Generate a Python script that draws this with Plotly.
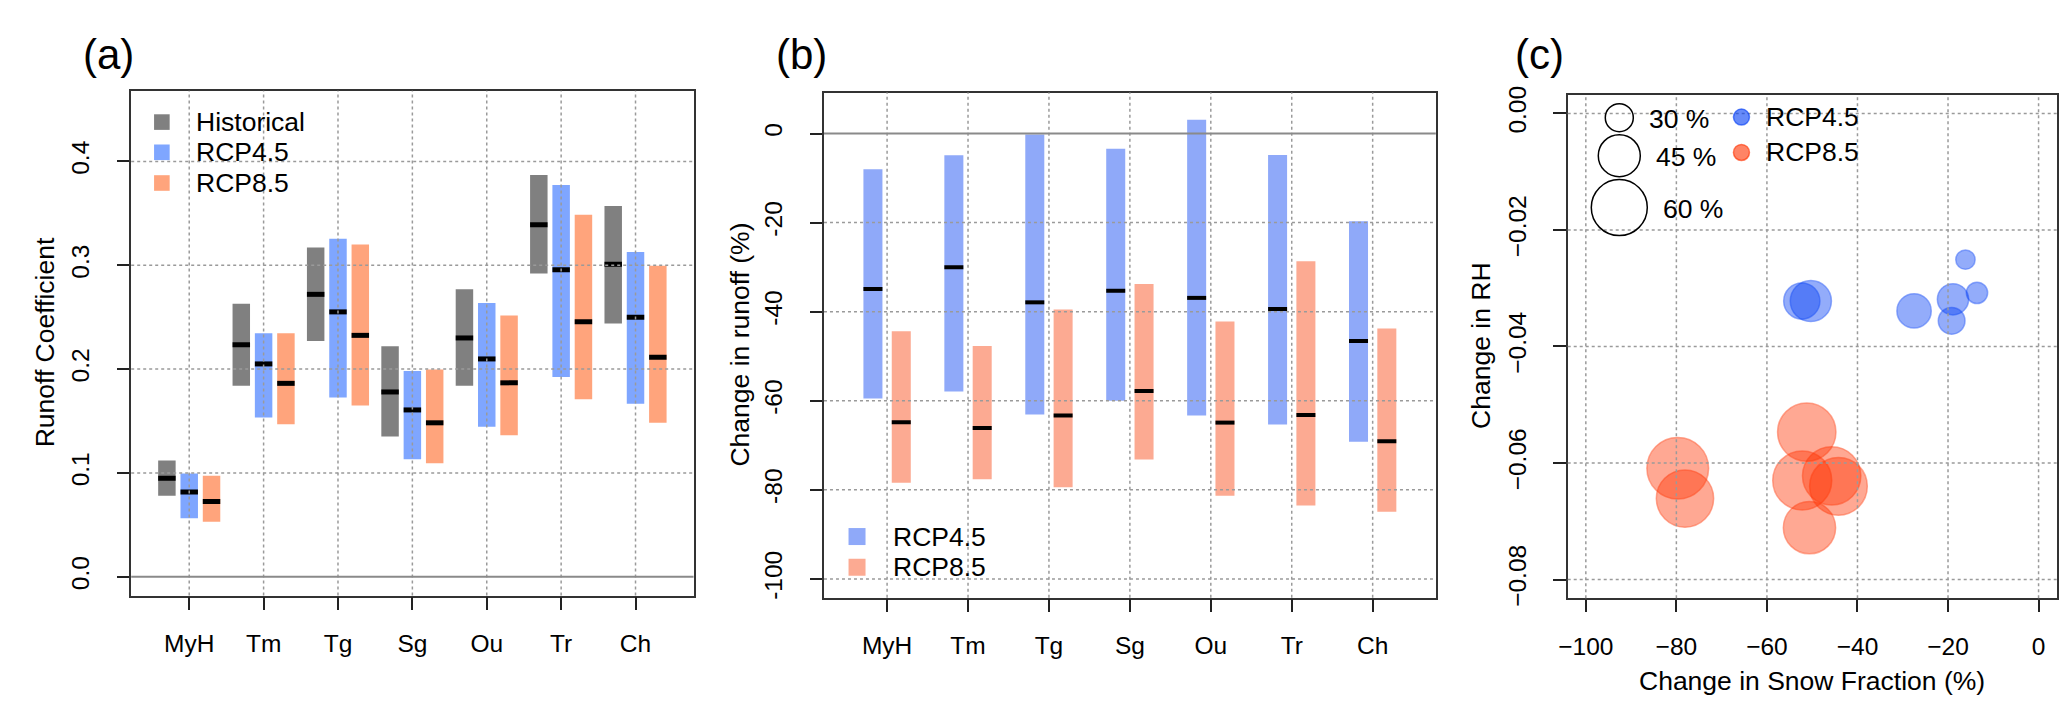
import plotly.graph_objects as go

# ---------------- data ----------------
basins = ["MyH", "Tm", "Tg", "Sg", "Ou", "Tr", "Ch"]

# panel (a) runoff coefficient: top / bottom / median
hist_top = [0.112, 0.263, 0.317, 0.222, 0.277, 0.387, 0.357]
hist_bot = [0.078, 0.184, 0.227, 0.135, 0.184, 0.292, 0.244]
hist_med = [0.095, 0.2235, 0.272, 0.178, 0.230, 0.339, 0.301]

r45_top = [0.0996, 0.2346, 0.3256, 0.1983, 0.2637, 0.3774, 0.3128]
r45_bot = [0.0564, 0.1534, 0.1726, 0.1132, 0.1444, 0.1923, 0.1667]
r45_med = [0.0816, 0.205, 0.2551, 0.1607, 0.2098, 0.2957, 0.250]

r85_top = [0.0974, 0.2346, 0.320, 0.1996, 0.2517, 0.3487, 0.2996]
r85_bot = [0.053, 0.147, 0.165, 0.1094, 0.1363, 0.1709, 0.1483]
r85_med = [0.0726, 0.1863, 0.2325, 0.1483, 0.1868, 0.2457, 0.2115]

# panel (b) change in runoff (%)
d45_top = [-8.0, -4.9, -0.2, -3.4, 3.1, -4.8, -19.7]
d45_bot = [-59.5, -57.9, -63.1, -60.0, -63.3, -65.3, -69.2]
d45_med = [-34.9, -30.0, -37.9, -35.3, -36.9, -39.4, -46.6]

d85_top = [-44.4, -47.7, -39.5, -33.8, -42.2, -28.7, -43.8]
d85_bot = [-78.4, -77.6, -79.4, -73.2, -81.3, -83.5, -84.9]
d85_med = [-64.8, -66.1, -63.3, -57.8, -64.9, -63.2, -69.1]

# panel (c) change in snow fraction vs change in RH, size in %
c45_x = [-16.15, -13.6, -18.9, -19.2, -27.5, -52.3, -50.3]
c45_y = [-0.0251, -0.0308, -0.0319, -0.0356, -0.0339, -0.0322, -0.0322]
c45_s = [20.7, 22.8, 33.5, 28.6, 36.8, 38.8, 44.1]

c85_x = [-79.7, -78.1, -51.2, -52.2, -45.7, -44.2, -50.6]
c85_y = [-0.0609, -0.0661, -0.0547, -0.0630, -0.0622, -0.0640, -0.0711]
c85_s = [66.1, 61.4, 62.5, 63.2, 62.5, 61.8, 56.0]

size_legend = [30, 45, 60]

a_yticks = [0.0, 0.1, 0.2, 0.3, 0.4]
a_yticktext = ["0.0", "0.1", "0.2", "0.3", "0.4"]
b_yticks = [0, -20, -40, -60, -80, -100]
b_yticktext = ["0", "-20", "-40", "-60", "-80", "-100"]
c_xticks = [-100, -80, -60, -40, -20, 0]
c_xticktext = ["\u2212100", "\u221280", "\u221260", "\u221240", "\u221220", "0"]
c_yticks = [0.0, -0.02, -0.04, -0.06, -0.08]
c_yticktext = ["0.00", "\u22120.02", "\u22120.04", "\u22120.06", "\u22120.08"]

# ---------------- style ----------------
W, H = 2067, 713
FONT = "Liberation Sans"
TICK_FS = 24.5
TITLE_FS = 26.5
PANEL_FS = 42

GRAY = "#808080"
A_BLUE = "#7FA6FF"
A_ORANGE = "#FFA47C"
B_BLUE = "#8FA9F9"
B_ORANGE = "#FCAA92"
C_BLUE = "rgba(0,60,245,0.6)"
C_RED = "rgba(255,50,0,0.6)"
GRID = "#9a9a9a"

PX_PER_PCT = 28 / 30.0   # circle diameter (px) per percent

def fx(px):
    return px / W

def fy(py):
    return 1 - py / H

fig = go.Figure()

pos = list(range(1, len(basins) + 1))
BW = 0.235


def add_bars(xaxis, yaxis, offset, tops, bots, meds, color, lw):
    xs = [p + offset for p in pos]
    fig.add_trace(go.Bar(
        x=xs, y=[t - b for t, b in zip(tops, bots)], base=bots, width=BW,
        marker=dict(color=color, line=dict(width=0)),
        xaxis=xaxis, yaxis=yaxis, showlegend=False, hoverinfo="skip"))
    mx, my = [], []
    for x, m in zip(xs, meds):
        mx += [x - BW / 2, x + BW / 2, None]
        my += [m, m, None]
    fig.add_trace(go.Scatter(
        x=mx, y=my, mode="lines", line=dict(color="black", width=lw),
        xaxis=xaxis, yaxis=yaxis, showlegend=False, hoverinfo="skip"))


# panel a
add_bars("x", "y", -0.3, hist_top, hist_bot, hist_med, GRAY, 5)
add_bars("x", "y", 0.0, r45_top, r45_bot, r45_med, A_BLUE, 5)
add_bars("x", "y", 0.3, r85_top, r85_bot, r85_med, A_ORANGE, 5)
# panel b
add_bars("x2", "y2", -0.175, d45_top, d45_bot, d45_med, B_BLUE, 4)
add_bars("x2", "y2", 0.175, d85_top, d85_bot, d85_med, B_ORANGE, 4)

# panel c
for xs, ys, ss, col in [(c45_x, c45_y, c45_s, C_BLUE), (c85_x, c85_y, c85_s, C_RED)]:
    fig.add_trace(go.Scatter(
        x=xs, y=ys, mode="markers",
        marker=dict(size=ss, sizemode="diameter", sizeref=1 / PX_PER_PCT,
                    color=col, line=dict(color=col, width=1.5)),
        xaxis="x3", yaxis="y3", showlegend=False, hoverinfo="skip"))

# ---------------- axes ----------------
common = dict(showline=True, linecolor="#333333", linewidth=1.5, mirror=True,
              ticks="outside", ticklen=12.5, tickwidth=1.5, tickcolor="#222222",
              showgrid=False, zeroline=False,
              tickfont=dict(family=FONT, size=TICK_FS, color="black"))
XSO = 13
YSO = 18

fig.update_layout(
    width=W, height=H, margin=dict(l=0, r=0, t=0, b=0),
    paper_bgcolor="white", plot_bgcolor="white", barmode="overlay",
    showlegend=False,
    xaxis=dict(domain=[fx(114.7), fx(679.5)], range=[0.22, 7.78], anchor="y",
               tickvals=pos, ticktext=basins, ticklabelstandoff=XSO, **common),
    yaxis=dict(domain=[fy(593.5), fy(75.7)], range=[-0.018, 0.468], anchor="x",
               tickvals=a_yticks, ticktext=a_yticktext, tickangle=-90,
               ticklabelstandoff=YSO, **common),
    xaxis2=dict(domain=[fx(810.5), fx(1425)], range=[0.22, 7.78], anchor="y2",
                tickvals=pos, ticktext=basins, ticklabelstandoff=XSO, **common),
    yaxis2=dict(domain=[fy(595.7), fy(77.5)], range=[-104.2, 9.2], anchor="x2",
                tickvals=b_yticks, ticktext=b_yticktext, tickangle=-90,
                ticklabelstandoff=YSO, **common),
    xaxis3=dict(domain=[fx(1557.5), fx(2048.6)], range=[-104, 4], anchor="y3",
                tickvals=c_xticks, ticktext=c_xticktext, ticklabelstandoff=XSO, **common),
    yaxis3=dict(domain=[fy(596.2), fy(79.8)], range=[-0.0832, 0.0032], anchor="x3",
                tickvals=c_yticks, ticktext=c_yticktext, tickangle=-90,
                ticklabelstandoff=YSO, **common),
)

shapes = []
# dotted grid drawn above the marks (as in the original)
def vgrid(xref, yref, vals):
    for v in vals:
        shapes.append(dict(type="line", xref=xref, yref=yref + " domain", x0=v, x1=v, y0=0, y1=1,
                           line=dict(color=GRID, width=1.5, dash="dot"), layer="above"))

def hgrid(xref, yref, vals):
    for v in vals:
        shapes.append(dict(type="line", xref=xref + " domain", yref=yref, x0=0, x1=1, y0=v, y1=v,
                           line=dict(color=GRID, width=1.5, dash="dot"), layer="above"))

vgrid("x", "y", pos)
hgrid("x", "y", [v for v in a_yticks if v != 0])
vgrid("x2", "y2", pos)
hgrid("x2", "y2", [v for v in b_yticks if v != 0])
vgrid("x3", "y3", c_xticks)
hgrid("x3", "y3", c_yticks)

# zero reference lines
for xr, yr in [("x", "y"), ("x2", "y2")]:
    shapes.append(dict(type="line", xref=xr + " domain", yref=yr, x0=0, x1=1, y0=0, y1=0,
                       line=dict(color="#8a8a8a", width=2), layer="above"))

annotations = []

def txt(x, y, s, size=TITLE_FS, xanchor="left", angle=0):
    annotations.append(dict(x=fx(x), y=fy(y), xref="paper", yref="paper", text=s,
                            showarrow=False, xanchor=xanchor, yanchor="middle",
                            textangle=angle,
                            font=dict(family=FONT, size=size, color="black")))

def square(cx, cy, color, size=15.6):
    shapes.append(dict(type="rect", xref="paper", yref="paper",
                       xsizemode="pixel", ysizemode="pixel",
                       xanchor=fx(cx), yanchor=fy(cy),
                       x0=-size / 2, x1=size / 2, y0=-size / 2, y1=size / 2,
                       fillcolor=color, line=dict(width=0)))

def circle(cx, cy, d, fill, line_color, lw=1.5):
    shapes.append(dict(type="circle", xref="paper", yref="paper",
                       xsizemode="pixel", ysizemode="pixel",
                       xanchor=fx(cx), yanchor=fy(cy),
                       x0=-d / 2, x1=d / 2, y0=-d / 2, y1=d / 2,
                       fillcolor=fill, line=dict(color=line_color, width=lw)))

# panel labels
txt(92, 38, "(a)", PANEL_FS, "center")
txt(787.5, 38, "(b)", PANEL_FS, "center")
txt(1529, 38, "(c)", PANEL_FS, "center")

# axis titles
txt(27.9, 334, "Runoff Coefficient", TITLE_FS, "center", -90)
txt(725.7, 336.5, "Change in runoff (%)", TITLE_FS, "center", -90)
txt(1470.2, 337.6, "Change in RH", TITLE_FS, "center", -90)
txt(1802.5, 681, "Change in Snow Fraction (%)", TITLE_FS, "center")

# legend (a)
for (lab, col), cy in zip([("Historical", GRAY), ("RCP4.5", A_BLUE), ("RCP8.5", A_ORANGE)],
                          [107.8, 138.8, 170.3]):
    square(145.5, cy, col)
    txt(177.3, cy, lab, TITLE_FS)

# legend (b)
for (lab, col), cy in zip([("RCP4.5", B_BLUE), ("RCP8.5", B_ORANGE)], [533, 564.5]):
    square(843.7, cy, col, 17)
    txt(877.7, cy, lab, TITLE_FS)

# legend (c): sizes
for v, cy, tx in zip(size_legend, [103.3, 142.3, 195.5], [1637.3, 1644, 1650.7]):
    circle(1609.3, cy, v * PX_PER_PCT, "rgba(0,0,0,0)", "black", 1.5)
    txt(tx, cy + 1.2, f"{v} %", TITLE_FS)

# legend (c): scenarios
for (lab, col), cy in zip([("RCP4.5", C_BLUE), ("RCP8.5", C_RED)], [102.7, 139]):
    circle(1732, cy, 16, col, col)
    txt(1754.3, cy, lab, TITLE_FS)

fig.update_layout(shapes=shapes, annotations=annotations)

fig.write_html("out.html")
